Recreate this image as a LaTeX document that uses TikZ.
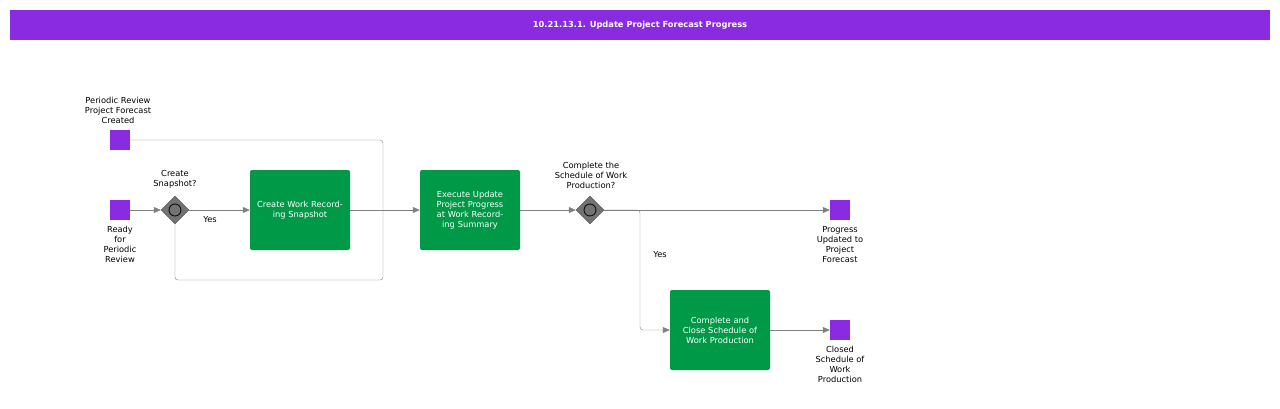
\documentclass[tikz,border=0pt]{standalone}
\usepackage{fontspec}
\setmainfont{DejaVu Sans}
\usetikzlibrary{arrows.meta,shapes.geometric}
\definecolor{pur}{HTML}{8A2BE2}
\definecolor{grn}{HTML}{009947}
\definecolor{ln}{HTML}{808080}
\begin{document}
\begin{tikzpicture}[x=1pt,y=-1pt,
  ev/.style={fill=pur,minimum size=20pt,inner sep=0,draw=none},
  task/.style={fill=grn,rounded corners=2pt,minimum width=100pt,minimum height=80pt,text width=92pt,align=center,text=white,font=\fontsize{8.3}{10}\selectfont},
  gw/.style={diamond,fill=ln!90!black,draw=ln!60!black,minimum size=28pt,inner sep=0},
  lbl/.style={font=\fontsize{8.3}{10}\selectfont,align=center},
  con/.style={draw=ln,-{Triangle[length=7pt,width=6pt]},rounded corners=3pt},
  lin/.style={draw=ln,rounded corners=3pt}]
\useasboundingbox (0,0) rectangle (1280,408);
\fill[pur] (10,10) rectangle (1270,40);
\node[text=white,font=\bfseries\fontsize{8.3}{10}\selectfont] (title) at (640,25) {10.21.13.1. Update Project Forecast Progress};
\node[ev] (e1) at (120,140) {};
\node[ev] (e2) at (120,210) {};
\node[ev] (e3) at (840,210) {};
\node[ev] (e4) at (840,330) {};
\node[gw] (g1) at (175,210) {};
\draw[thick] (g1) circle (6pt);
\node[gw] (g2) at (590,210) {};
\draw[thick] (g2) circle (6pt);
\node[task] (t1) at (300,210) {Create Work Recording Snapshot};
\node[task] (t2) at (470,210) {Execute Update Project Progress at Work Recording Summary};
\node[task] (t3) at (720,330) {Complete and Close Schedule of Work Production};
\node[lbl,anchor=south] at (118,127) {Periodic Review\\Project Forecast\\Created};
\node[lbl,anchor=north] at (120,223) {Ready\\for\\Periodic\\Review};
\node[lbl,anchor=south] at (175,192) {Create\\Snapshot?};
\node[lbl,anchor=south] at (591,192) {Complete the\\Schedule of Work\\Production?};
\node[lbl,anchor=north] at (840,223) {Progress\\Updated to\\Project\\Forecast};
\node[lbl,anchor=north] at (840,343) {Closed\\Schedule of\\Work\\Production};
\node[lbl] at (210,220) {Yes};
\node[lbl] at (660,255) {Yes};
\coordinate (m) at (383,210);
\draw[lin] (e1.east) -- (383,140) -- (m);
\draw[lin] (g1.south) -- (175,280) -- (383,280) -- (m);
\draw[con] (e2) -- (g1);
\draw[con] (g1) -- (t1);
\draw[con] (t1) -- (t2);
\draw[con] (t2) -- (g2);
\draw[con] (g2) -- (e3);
\draw[con] (g2.east) -- (640,210) -- (640,330) -- (t3.west);
\draw[con] (t3) -- (e4);
\end{tikzpicture}
\end{document}
